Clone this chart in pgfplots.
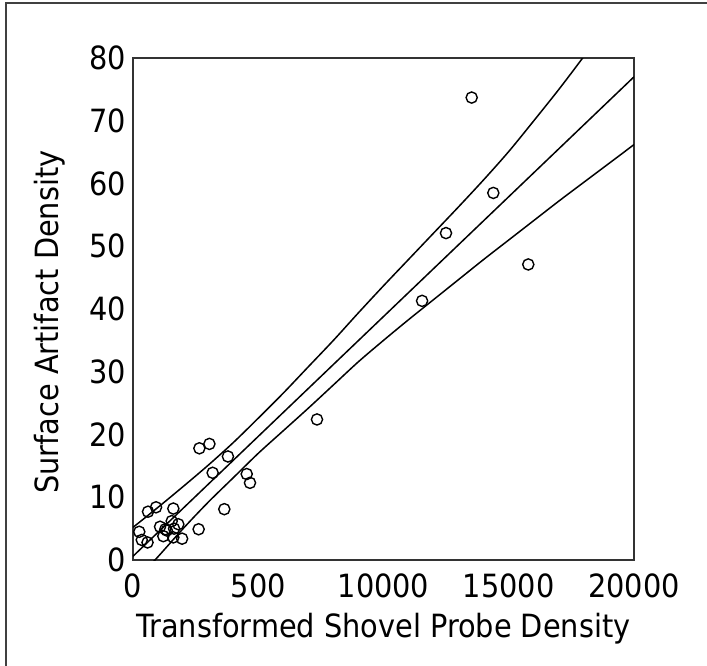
\documentclass[border=0pt]{standalone}
\usepackage{fontspec}
\setmainfont{DejaVu Sans Condensed}
\usepackage{pgfplots}
\pgfplotsset{compat=1.18}
\begin{document}
\begin{tikzpicture}
\useasboundingbox (-66.5pt,-52.5pt) rectangle (287pt,280pt);
% outer frame (only left and top sides fall inside the picture)
\draw[black!75, line width=1pt] (-63.5pt,-54pt) -- (-63.5pt,278.5pt) -- (289pt,278.5pt);
\begin{axis}[
  at={(0,0)}, anchor=south west,
  scale only axis, width=250.5pt, height=251pt,
  xmin=0, xmax=20000, ymin=0, ymax=80,
  axis line style={black!80, line width=0.9pt},
  major tick length=0pt,
  xtick={0,5000,10000,15000,20000},
  xticklabels={0,500,10000,15000,20000},
  ytick={0,10,20,30,40,50,60,70,80},
  yticklabels={0,10,20,30,40,50,60,70,80},
  scaled x ticks=false,
  /pgf/number format/assume math mode=true,
  tick label style={font=\fontsize{16}{19}\selectfont},
  x tick label style={anchor=base, yshift=-18.5pt},
  label style={font=\fontsize{16}{19}\selectfont},
  xlabel={Transformed Shovel Probe Density},
  ylabel={Surface Artifact Density},
  xlabel style={at={(axis description cs:0.5,0)}, anchor=base, yshift=-38.5pt},
  ylabel style={at={(axis description cs:0,0.474)}, anchor=center, yshift=41.5pt},
]
% upper confidence band
\addplot[black, line width=0.75pt, smooth] coordinates {
  (0,5.2) (1000,8.4) (2000,11.7) (3000,15.1) (4000,18.7) (5000,22.6)
  (6000,26.6) (7000,30.8) (8000,35.0) (9000,39.4) (10000,43.7)
  (11000,47.9) (12000,52.1) (13000,56.3) (14000,60.6) (15000,65.1)
  (16000,70.0) (17000,75.0) (17950,80.0) (18300,82.0)
};
% regression line
\addplot[black, line width=0.75pt] coordinates {
  (0,0.6) (20000,77.0)
};
% lower confidence band
\addplot[black, line width=0.75pt, smooth] coordinates {
  (0,-3.6) (878,0) (2000,5.0) (3000,9.2) (4000,13.1) (5000,17.0)
  (6000,20.6) (7000,24.2) (8000,27.9) (9000,31.6) (10000,35.0)
  (11000,38.3) (12000,41.5) (13000,44.7) (14000,47.9) (15000,51.0)
  (16000,54.1) (17000,57.2) (18000,60.2) (19000,63.2) (20000,66.2)
};
% observations
\addplot[only marks, mark=o, mark size=2.8pt, mark options={line width=0.7pt}, black] coordinates {
  (250,4.5) (350,3.2) (580,2.8) (600,7.7) (920,8.4) (1080,5.3)
  (1210,3.8) (1290,4.9) (1350,4.7) (1545,6.2) (1610,8.2) (1610,3.6)
  (1640,5.0) (1810,5.7) (1960,3.4) (2620,4.9) (2650,17.8) (3050,18.5)
  (3180,13.9) (3645,8.1) (3790,16.5) (4540,13.7) (4670,12.3)
  (7345,22.4) (11540,41.3) (12495,52.1) (13520,73.7) (14384,58.5)
  (15780,47.1)
};
\end{axis}
\end{tikzpicture}
\end{document}
